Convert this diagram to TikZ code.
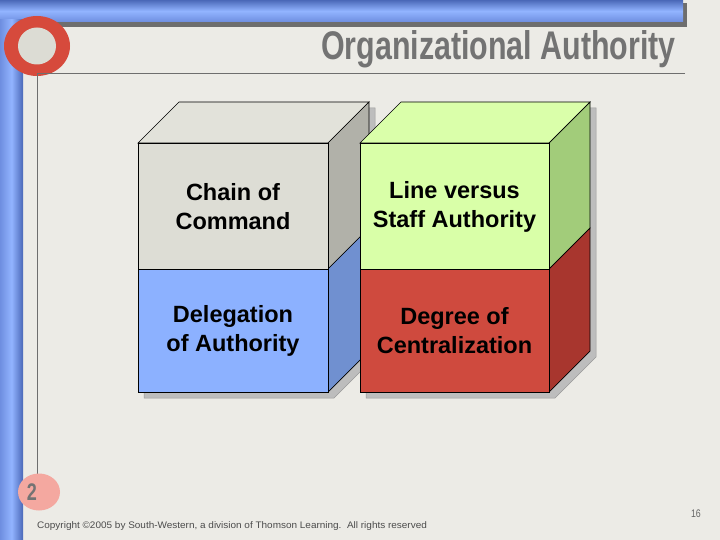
\documentclass[tikz,border=0pt]{standalone}
\usepackage{fontspec}
\setmainfont{Liberation Sans}
\definecolor{bg}{HTML}{ECEBE6}
\definecolor{grayfront}{HTML}{DDDDD5}
\definecolor{graytop}{HTML}{E2E2DA}
\definecolor{grayside}{HTML}{B1B1A9}
\definecolor{bluefront}{HTML}{8CB1FF}
\definecolor{blueside}{HTML}{7090D0}
\definecolor{greenfront}{HTML}{D9FFA8}
\definecolor{greentop}{HTML}{DAFFAA}
\definecolor{greenside}{HTML}{A2CC7A}
\definecolor{redfront}{HTML}{CF4A3E}
\definecolor{redside}{HTML}{A8362E}
\definecolor{shadowc}{HTML}{BDBDBD}
\definecolor{shadowl}{HTML}{9A9A9A}
\definecolor{barlight}{HTML}{92B4FF}
\definecolor{bardark}{HTML}{4A68B8}
\definecolor{barmid}{HTML}{6E8EE0}
\definecolor{ringred}{HTML}{D64A3C}
\definecolor{ringin}{HTML}{DCDCD4}
\definecolor{pinkc}{HTML}{F4A8A0}
\definecolor{titlegray}{HTML}{737373}
\definecolor{linegray}{HTML}{6E6E6E}
\begin{document}
\begin{tikzpicture}[x=1pt,y=-1pt,
  face/.style={draw=black,line width=0.7pt,line join=miter},
  shad/.style={fill=shadowc,draw=shadowl,line width=0.5pt},
  lbl/.style={font=\fontsize{23.5}{29}\selectfont\bfseries,align=center,text=black,inner sep=0pt}]
\useasboundingbox (0,0) rectangle (720,540);
\fill[bg] (0,0) rectangle (720,540);
% top bar shadow
\fill[linegray] (40,22) rectangle (687,27);
\fill[linegray] (683,3) rectangle (687,27);
% top bar
\shade[top color=bardark,bottom color=barmid,middle color=barlight] (0,0) rectangle (683,22);
% left bar
\shade[left color=barmid,right color=bardark,middle color=barlight] (0,20) rectangle (23,540);
% ring
\fill[ringred] (37,46) ellipse [x radius=33,y radius=30];
\fill[ringin] (37,46) ellipse [x radius=19,y radius=18.5];
% guide lines
\draw[linegray,line width=0.8pt] (685,73) -- (37,73) -- (37,474);
% number circle
\fill[pinkc] (39,492) ellipse [x radius=21,y radius=18.5];
\node[anchor=center,text=titlegray,font=\fontsize{24}{24}\selectfont\bfseries,inner sep=0pt] (num) at (32,492) {\scalebox{0.75}[1]{2}};
% title
\node[anchor=base east,text=titlegray,font=\fontsize{40}{40}\selectfont\bfseries,inner sep=0pt] (title) at (676,60) {\scalebox{0.76}[1]{Organizational Authority}};
% left stack
\draw[shad] (144,398) -- (334,398) -- (375,357) -- (375,108) -- (185,108) -- (144,149) -- cycle;
\draw[face,fill=graytop] (138,143) -- (328,143) -- (369,102) -- (179,102) -- cycle;
\draw[face,fill=grayside] (328,143) -- (369,102) -- (369,228) -- (328,269) -- cycle;
\draw[face,fill=blueside] (328,269) -- (369,228) -- (369,351) -- (328,392) -- cycle;
\draw[face,fill=grayfront] (138,143) rectangle (328,269);
\draw[face,fill=bluefront] (138,269) rectangle (328,392);
% right stack
\draw[shad] (366,398) -- (555,398) -- (596,357) -- (596,108) -- (407,108) -- (366,149) -- cycle;
\draw[face,fill=greentop] (360,143) -- (549,143) -- (590,102) -- (401,102) -- cycle;
\draw[face,fill=greenside] (549,143) -- (590,102) -- (590,228) -- (549,269) -- cycle;
\draw[face,fill=redside] (549,269) -- (590,228) -- (590,351) -- (549,392) -- cycle;
\draw[face,fill=greenfront] (360,143) rectangle (549,269);
\draw[face,fill=redfront] (360,269) rectangle (549,392);
% labels
\node[lbl] (chain) at (233,207) {Chain of\\Command};
\node[lbl] (deleg) at (233,331) {Delegation\\of Authority};
\node[lbl] (line) at (454.5,207) {Line versus\\Staff Authority};
\node[lbl] (degree) at (454.5,331) {Degree of\\Centralization};
% footer
\node[anchor=base west,text=black!70,font=\fontsize{9.5}{9.5}\selectfont,inner sep=0pt] (copy) at (37,528) {\scalebox{1.05}[1]{Copyright \textcopyright2005 by South-Western, a division of Thomson Learning.\ \ All rights reserved}};
\node[anchor=base east,text=black!60,font=\fontsize{11}{11}\selectfont,inner sep=0pt] (page) at (701,517) {\scalebox{0.8}[1]{16}};
\end{tikzpicture}
\end{document}
